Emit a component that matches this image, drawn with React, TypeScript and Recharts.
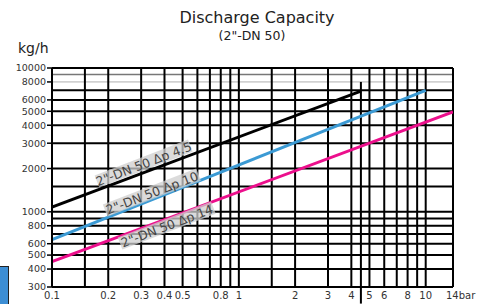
import React from 'react';
import { LineChart, Line, XAxis, YAxis, ReferenceLine, ReferenceDot } from 'recharts';

// pressure (bar) ticks on the log x axis
const xTicks = [0.1, 0.2, 0.3, 0.4, 0.5, 0.8, 1, 2, 3, 4, 5, 6, 8, 10, 14];
// flow (kg/h) ticks on the log y axis
const yTicks = [300, 400, 500, 600, 800, 1000, 2000, 3000, 4000, 5000, 6000, 8000, 10000];

// grid lines of the nomogram
const xGrid = [0.15, 0.2, 0.3, 0.4, 0.5, 0.6, 0.7, 0.8, 0.9, 1, 1.5, 2, 3, 4, 5, 6, 7, 8, 9, 10, 14];
const yGrid = [400, 500, 600, 700, 800, 900, 1000, 1500, 2000, 3000, 4000, 5000, 6000, 7000, 10000];
const yGridGray = [9000];
const yGridLight = [8000];

// series (straight lines on log-log)
const dp45 = [
  { bar: 0.1, kgh: 1080 },
  { bar: 4.5, kgh: 6900 },
];
const dp10 = [
  { bar: 0.1, kgh: 640 },
  { bar: 10, kgh: 7000 },
];
const dp14 = [
  { bar: 0.1, kgh: 450 },
  { bar: 14, kgh: 4950 },
];

const lineLabels = [
  { text: '2"-DN 50 Δp 4.5', bar: 0.31, kgh: 2150 },
  { text: '2"-DN 50 Δp 10', bar: 0.343, kgh: 1350 },
  { text: '2"-DN 50 Δp 14', bar: 0.412, kgh: 796 },
];

const font = '"DejaVu Sans", sans-serif';

const XTick = (props: any) => {
  const { x, y, payload } = props;
  const v = payload.value;
  if (v === 14) {
    return (
      <text x={x - 7} y={y} dy="0.71em" fontSize={10} fill="#333" fontFamily={font} textAnchor="start">
        14bar
      </text>
    );
  }
  return (
    <text x={x} y={y} dy="0.71em" fontSize={10} fill="#333" fontFamily={font} textAnchor="middle">
      {v}
    </text>
  );
};

const makeLabel = (text: string) => (props: any) => {
  const vb = props.viewBox || {};
  const cx = (vb.x || 0) + (vb.width || 0) / 2;
  const cy = (vb.y || 0) + (vb.height || 0) / 2;
  return (
    <g transform={`translate(${cx},${cy}) rotate(-21)`}>
      <rect x={-50} y={-7} width={100} height={13} fill="#cfcfcf" opacity={0.75} />
      <text x={0} y={0} dy="0.35em" textAnchor="middle" fontSize={12.5} fill="#444" fontFamily={font}>
        {text}
      </text>
    </g>
  );
};

export default function App() {
  return (
    <div style={{ position: 'absolute', left: 0, top: 0, width: 490, height: 304, background: '#fff', fontFamily: font }}>
      <div style={{ position: 'absolute', left: 0, top: 8, width: 514, textAlign: 'center', fontSize: 16, color: '#222' }}>
        Discharge Capacity
      </div>
      <div style={{ position: 'absolute', left: 0, top: 28, width: 504, textAlign: 'center', fontSize: 12.5, color: '#222' }}>
        (2"-DN 50)
      </div>
      <div style={{ position: 'absolute', left: 18, top: 40, fontSize: 14, color: '#222' }}>kg/h</div>
      <div
        style={{
          position: 'absolute',
          left: -1,
          top: 266,
          width: 10,
          height: 40,
          background: '#3d8ed4',
          border: '1px solid #222',
          boxSizing: 'border-box',
        }}
      />
      <div style={{ position: 'absolute', left: 0, top: 0 }}>
        <LineChart width={490} height={304} margin={{ top: 68, right: 37, left: 0, bottom: 0 }}>
          <XAxis
            dataKey="bar"
            type="number"
            scale="log"
            domain={[0.1, 14]}
            ticks={xTicks}
            interval={0}
            allowDataOverflow
            height={17}
            tickSize={0}
            tickMargin={5}
            tick={<XTick />}
            axisLine={{ stroke: '#000', strokeWidth: 2 }}
          />
          <YAxis
            dataKey="kgh"
            type="number"
            scale="log"
            domain={[300, 10000]}
            ticks={yTicks}
            interval={0}
            allowDataOverflow
            width={52}
            tickSize={5}
            tickMargin={1}
            tick={{ fontSize: 9.5, fill: '#333', fontFamily: font }}
            tickLine={{ stroke: '#000', strokeWidth: 1.5 }}
            axisLine={{ stroke: '#000', strokeWidth: 2 }}
          />
          {yGridLight.map((v) => (
            <ReferenceLine key={'yl' + v} y={v} stroke="#b0b0b0" strokeWidth={1} />
          ))}
          {yGridGray.map((v) => (
            <ReferenceLine key={'yg' + v} y={v} stroke="#777" strokeWidth={1.5} />
          ))}
          {yGrid.map((v) => (
            <ReferenceLine key={'y' + v} y={v} stroke="#000" strokeWidth={2} />
          ))}
          {xGrid.map((v) => (
            <ReferenceLine key={'x' + v} x={v} stroke="#000" strokeWidth={2} />
          ))}
          <ReferenceLine
            segment={[
              { x: 4.5, y: 8000 },
              { x: 4.5, y: 230 },
            ]}
            ifOverflow="visible"
            stroke="#000"
            strokeWidth={2}
          />
          <Line data={dp45} dataKey="kgh" stroke="#000" strokeWidth={3} dot={false} isAnimationActive={false} />
          <Line data={dp10} dataKey="kgh" stroke="#3b9ad4" strokeWidth={3} dot={false} isAnimationActive={false} />
          <Line data={dp14} dataKey="kgh" stroke="#ec0f8c" strokeWidth={3} dot={false} isAnimationActive={false} />
          {lineLabels.map((l) => (
            <ReferenceDot
              key={l.text}
              x={l.bar}
              y={l.kgh}
              r={1}
              fill="none"
              stroke="none"
              label={makeLabel(l.text)}
            />
          ))}
        </LineChart>
      </div>
    </div>
  );
}
